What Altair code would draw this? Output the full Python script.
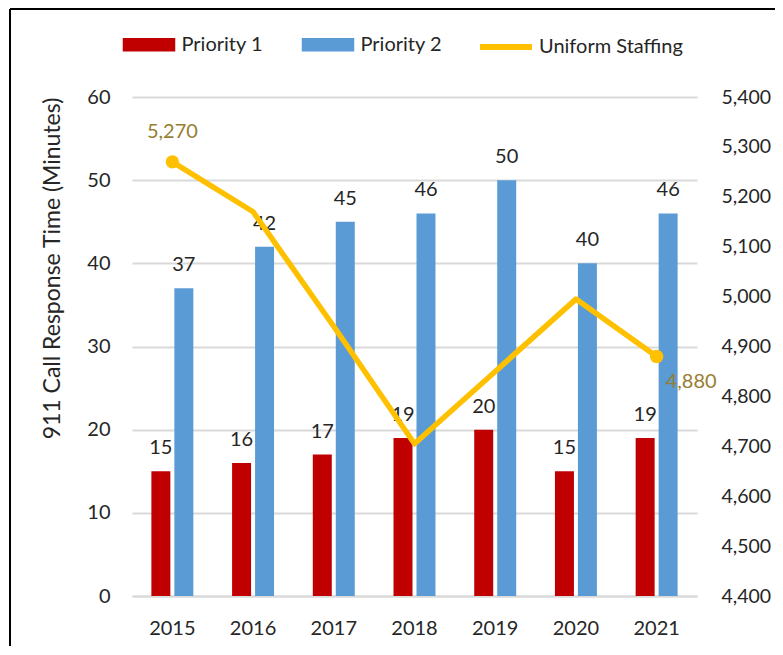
import altair as alt
import pandas as pd

years = ["2015", "2016", "2017", "2018", "2019", "2020", "2021"]
priority1 = [15, 16, 17, 19, 20, 15, 19]
priority2 = [37, 42, 45, 46, 50, 40, 46]
staffing = [5270, 5170, 4940, 4705, 4850, 4995, 4880]
bar_series = ["Priority 1", "Priority 2"]
line_series = "Uniform Staffing"
left_ticks = [0, 10, 20, 30, 40, 50, 60]
right_ticks = [4400, 4500, 4600, 4700, 4800, 4900, 5000, 5100, 5200, 5300, 5400]

bars_df = pd.DataFrame(
    [{"year": y, "series": bar_series[0], "value": v} for y, v in zip(years, priority1)]
    + [{"year": y, "series": bar_series[1], "value": v} for y, v in zip(years, priority2)]
)
line_df = pd.DataFrame({"year": years, "series": [line_series] * len(years), "value": staffing})
ends_df = line_df.iloc[[0, -1]].copy()
ends_df["label"] = ends_df["value"].map(lambda v: f"{v:,}")

FONT = "Lato"
TXT = "#262626"
OLIVE = "#977E2F"

x_enc = alt.X(
    "year:N",
    sort=years,
    scale=alt.Scale(paddingInner=0.48, paddingOuter=0.24),
    axis=alt.Axis(
        title=None, labelAngle=0, labelFontSize=20, labelColor=TXT, labelPadding=22,
        ticks=False, domainColor="#D9D9D9", domainWidth=2, grid=False,
    ),
)
xoff = alt.XOffset("series:N", sort=bar_series, scale=alt.Scale(paddingInner=0.174, paddingOuter=0))

left_axis = alt.Axis(
    title="911 Call Response Time (Minutes)", values=left_ticks, orient="left",
    labelFontSize=20, labelColor=TXT, labelPadding=22, ticks=False, domain=False,
    grid=True, gridColor="#D9D9D9", gridWidth=2,
    titleFontSize=23, titleFontWeight="normal", titleColor=TXT,
    titleX=-80, titleY=171, titleAngle=-90, titleAlign="center", titleBaseline="middle",
)
y_left = alt.Y("value:Q", scale=alt.Scale(domain=[0, 60], nice=False), axis=left_axis)

bars = alt.Chart(bars_df).mark_bar().encode(
    x=x_enc,
    xOffset=xoff,
    y=y_left,
    color=alt.Color(
        "series:N",
        sort=bar_series,
        scale=alt.Scale(domain=bar_series, range=["#C00000", "#5B9BD5"]),
        legend=alt.Legend(
            title=None, orient="none", direction="horizontal", legendX=-9.5, legendY=-79,
            symbolType="M-1,-0.26L1,-0.26L1,0.26L-1,0.26Z", symbolSize=2756, symbolStrokeWidth=0,
            labelFontSize=20, labelColor=TXT, labelOffset=6, columnPadding=38, padding=0,
        ),
    ),
)
bar_labels = alt.Chart(bars_df).mark_text(
    dy=-17, baseline="alphabetic", fontSize=20, color=TXT
).encode(x=x_enc, xOffset=xoff, y=y_left, text="value:Q")

left = alt.layer(bars, bar_labels)

right_axis = alt.Axis(
    title=None, orient="right", values=right_ticks, format=",.0f", labelFontSize=19.5,
    labelColor=TXT, labelPadding=24, labelLimit=200, ticks=False, domain=False, grid=False,
)
y_right = alt.Y("value:Q", scale=alt.Scale(domain=[4400, 5400], nice=False), axis=right_axis)

line = alt.Chart(line_df).mark_line(strokeWidth=5.5, strokeCap="round", strokeJoin="round").encode(
    x=x_enc,
    y=y_right,
    stroke=alt.Stroke(
        "series:N",
        scale=alt.Scale(domain=[line_series], range=["#FFC000"]),
        legend=alt.Legend(
            title=None, orient="none", direction="horizontal", legendX=345, legendY=-79,
            symbolType="stroke", symbolSize=2700, symbolStrokeWidth=6,
            labelFontSize=20, labelColor=TXT, labelOffset=4, padding=0,
        ),
    ),
)
points = alt.Chart(ends_df).mark_circle(size=180, color="#FFC000", opacity=1).encode(
    x=x_enc, y=y_right
)
label_first = alt.Chart(ends_df.iloc[[0]]).mark_text(
    dy=-24, baseline="alphabetic", fontSize=20, color=OLIVE
).encode(x=x_enc, y=y_right, text="label:N")
label_last = alt.Chart(ends_df.iloc[[1]]).mark_text(
    dx=9, dy=26, align="left", baseline="middle", fontSize=20, color=OLIVE
).encode(x=x_enc, y=y_right, text="label:N")

right = alt.layer(line, points, label_first, label_last)

frame_df = pd.DataFrame({"k": [0]})
frame_top = alt.Chart(frame_df).mark_rule(color="#000000", strokeWidth=2).encode(
    x=alt.value(-122), x2=alt.value(700), y=alt.value(-88)
)
frame_left = alt.Chart(frame_df).mark_rule(color="#000000", strokeWidth=2).encode(
    x=alt.value(-122), y=alt.value(-88), y2=alt.value(600)
)

chart = (
    alt.layer(left, right, frame_top, frame_left)
    .resolve_scale(y="independent", color="independent", stroke="independent")
    .properties(
        width=565,
        height=499,
        autosize=alt.AutoSizeParams(type="none"),
        padding={"left": 124, "top": 89, "right": 78, "bottom": 50},
    )
    .configure(font=FONT)
    .configure_view(stroke=None)
)

chart.save("out.html", embed_options={"renderer": "svg", "actions": False})
